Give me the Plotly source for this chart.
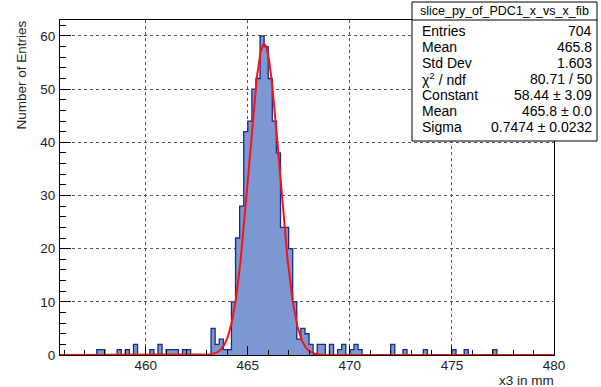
import numpy as np
import plotly.graph_objects as go

# ---------------- data ----------------
# histogram: 121 bins of width 0.2 over [455.8, 480]
hist_lo = 455.8
hist_hi = 480.0
bin_width = 0.2
# left edges of non-empty bins and their contents
bin_left = [457.6, 457.8, 458.6, 459.0, 459.4, 460.2, 460.6, 461.0, 461.2, 461.4,
            461.8, 462.0, 463.2, 463.4, 463.6, 463.8, 464.0,
            464.2, 464.4, 464.6, 464.8, 465.0, 465.2, 465.4, 465.6, 465.8,
            466.0, 466.2, 466.4, 466.6, 466.8, 467.0, 467.2,
            467.4, 467.6, 467.8, 468.0, 468.4, 468.6, 469.0, 469.4, 469.6,
            470.0, 470.2, 470.4, 472.0, 472.6, 473.6, 475.0, 475.6, 477.0]
bin_count = [1, 1, 1, 1, 2, 1, 2, 1, 1, 1,
             1, 1, 5, 2, 3, 1, 1,
             10, 22, 28, 42, 44, 50, 52, 60, 58,
             52, 44, 38, 24, 24, 20, 10,
             3, 5, 4, 2, 2, 2, 2, 1, 2,
             1, 2, 1, 2, 1, 1, 1, 1, 1]

# gaussian fit parameters (from the stats box)
fit_const = 58.44
fit_mean = 465.8
fit_sigma = 0.7474

stats_name = "slice_py_of_PDC1_x_vs_x_fib"
stats_labels = ["Entries", "Mean", "Std Dev", "\u03c7<sup>2</sup> / ndf", "Constant", "Mean", "Sigma"]
stats_values = ["704", "465.8", "1.603", "80.71 / 50", "58.44 \u00b1 3.09", "465.8 \u00b1 0.0", "0.7474 \u00b1 0.0232"]

x_title = "x3 in mm"
y_title = "Number of Entries"

# ---------------- build histogram arrays ----------------
nbins = int(round((hist_hi - hist_lo) / bin_width))
edges = hist_lo + bin_width * np.arange(nbins + 1)
counts = np.zeros(nbins)
for lo, c in zip(bin_left, bin_count):
    k = int(round((lo - hist_lo) / bin_width))
    counts[k] = c
centers = 0.5 * (edges[:-1] + edges[1:])

# ---------------- figure geometry (pixels) ----------------
W, H = 601, 387
L, R, T, B = 60, 554, 20, 355


def px(x):
    return (x - L) / (R - L)


def py(y):
    return (B - y) / (B - T)


FONT = "Liberation Sans, Arial, Helvetica, sans-serif"
fill_col = "#7b98d3"
edge_col = "#1b2a8a"

fig = go.Figure()
fig.add_trace(go.Bar(x=centers, y=counts, width=bin_width,
                     marker=dict(color=fill_col, line=dict(width=0)),
                     hoverinfo="skip", showlegend=False))

# outline as a step contour
ox = np.concatenate([[edges[0]], edges[:-1], [edges[-1]], [edges[-1]]])
oy = np.concatenate([[0], counts, [counts[-1]], [0]])
fig.add_trace(go.Scatter(x=ox, y=oy, mode="lines",
                         line=dict(color=edge_col, width=1.3, shape="hv"),
                         hoverinfo="skip", showlegend=False))

# gaussian fit curve
xf = np.linspace(hist_lo, hist_hi, 1500)
yf = fit_const * np.exp(-0.5 * ((xf - fit_mean) / fit_sigma) ** 2)
fig.add_trace(go.Scatter(x=xf, y=yf, mode="lines",
                         line=dict(color="#ff1010", width=2),
                         hoverinfo="skip", showlegend=False))

axis_common = dict(
    showline=True, linecolor="black", linewidth=1, mirror=True,
    ticks="inside", tickcolor="black", tickwidth=1,
    showgrid=True, gridcolor="#555555", gridwidth=1, griddash="dot",
    zeroline=False, automargin=False,
    tickfont=dict(family=FONT, size=13.5, color="#222222"),
)

fig.update_xaxes(range=[hist_lo, hist_hi], tickmode="linear", tick0=460, dtick=5,
                 ticklen=9,
                 minor=dict(dtick=1, tick0=460, ticks="inside", ticklen=5, tickcolor="black", showgrid=False),
                 ticklabelstandoff=-2,
                 **axis_common)
fig.update_yaxes(range=[0, 63], tickmode="linear", tick0=0, dtick=10,
                 ticklen=11,
                 minor=dict(dtick=2, tick0=0, ticks="inside", ticklen=6, tickcolor="black", showgrid=False),
                 ticklabelstandoff=1,
                 **axis_common)

annotations = []
shapes = []

# axis titles
annotations.append(dict(x=px(555), y=py(380), xref="paper", yref="paper", text=x_title,
                        showarrow=False, xanchor="right", yanchor="middle", borderpad=0,
                        font=dict(family=FONT, size=13.5, color="#222222")))
annotations.append(dict(x=px(21), y=py(19), xref="paper", yref="paper", text=y_title,
                        showarrow=False, xanchor="center", yanchor="top", textangle=-90,
                        font=dict(family=FONT, size=13.5, color="#222222")))

# stats box
bx0, bx1, by0, by1, bhead = 412, 597, 2, 141, 20
shapes.append(dict(type="rect", xref="paper", yref="paper",
                   x0=px(bx0), x1=px(bx1), y0=py(by1), y1=py(by0),
                   line=dict(color="black", width=1), fillcolor="white", layer="above"))
shapes.append(dict(type="line", xref="paper", yref="paper",
                   x0=px(bx0), x1=px(bx1), y0=py(bhead), y1=py(bhead),
                   line=dict(color="black", width=1), layer="above"))
annotations.append(dict(x=px((bx0 + bx1) / 2), y=py(11.5), xref="paper", yref="paper",
                        text=stats_name, showarrow=False, xanchor="center", yanchor="middle",
                        font=dict(family=FONT, size=12.5, color="black")))
row_y0, row_dy = 31, 16.0
for i, (lab, val) in enumerate(zip(stats_labels, stats_values)):
    yy = row_y0 + i * row_dy
    annotations.append(dict(x=px(420), y=py(yy), xref="paper", yref="paper", text=lab,
                            showarrow=False, xanchor="left", yanchor="middle",
                            font=dict(family=FONT, size=14, color="black")))
    annotations.append(dict(x=px(594), y=py(yy), xref="paper", yref="paper", text=val,
                            showarrow=False, xanchor="right", yanchor="middle",
                            font=dict(family=FONT, size=14, color="black")))

fig.update_layout(
    width=W, height=H,
    margin=dict(l=L, r=W - R, t=T, b=H - B, pad=0, autoexpand=False),
    paper_bgcolor="white", plot_bgcolor="white",
    bargap=0, showlegend=False,
    annotations=annotations, shapes=shapes,
)

fig.write_html("out.html")
